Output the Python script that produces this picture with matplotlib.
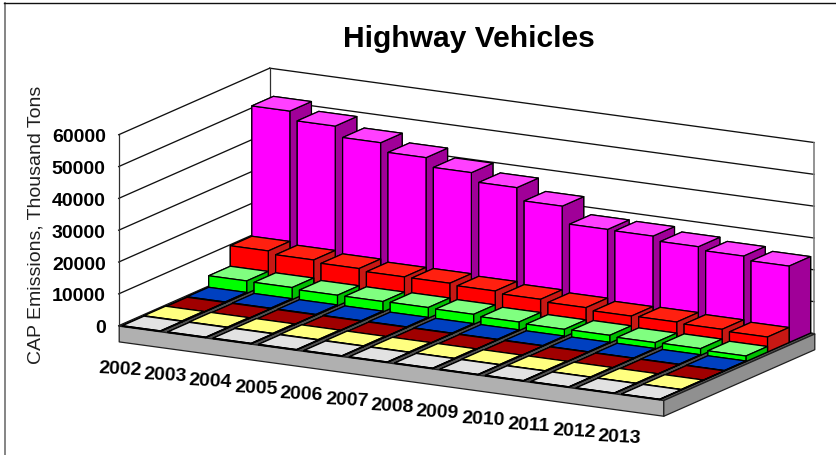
import matplotlib
matplotlib.use("Agg")
import matplotlib.pyplot as plt
from matplotlib.lines import Line2D
from mpl_toolkits.mplot3d import proj3d
from mpl_toolkits.mplot3d.art3d import Poly3DCollection

plt.rcParams['font.family'] = ['Liberation Sans', 'DejaVu Sans']

title = "Highway Vehicles"
y_label = "CAP Emissions, Thousand Tons"
years = ["2002", "2003", "2004", "2005", "2006", "2007",
         "2008", "2009", "2010", "2011", "2012", "2013"]
z_ticks = [0, 10000, 20000, 30000, 40000, 50000, 60000]

# series from the front row to the back row
grey_s = [160, 150, 150, 140, 140, 130, 130, 120, 120, 110, 110, 100]
yellow_s = [300, 290, 280, 270, 260, 250, 240, 230, 220, 210, 200, 190]
darkred_s = [120, 120, 110, 110, 100, 100, 90, 90, 80, 80, 70, 70]
blue_s = [280, 270, 260, 250, 240, 230, 220, 210, 200, 190, 180, 170]
green_s = [3900, 3770, 3300, 3270, 3330, 3140, 2670, 2320, 2390, 2040, 2100, 1730]
red_s = [10340, 9450, 8700, 8010, 7980, 7480, 6820, 6150, 5440, 5520, 5180, 4710]
magenta_s = [51300, 48530, 45240, 42500, 39740, 36970, 33100, 27740, 27580, 26200, 25190, 24000]

rows = [grey_s, yellow_s, darkred_s, blue_s, green_s, red_s, magenta_s]
# (front, top, side)
row_colors = [
    ("#C8C8C8", "#E2E2E2", "#A8A8A8"),
    ("#E6E650", "#FFFF80", "#C8C840"),
    ("#800000", "#A00000", "#700000"),
    ("#0030A0", "#0040C0", "#002890"),
    ("#00FF00", "#80FF80", "#00C000"),
    ("#FF0000", "#FF2010", "#C81814"),
    ("#FF00FF", "#FF40FF", "#A00098"),
]

W, H = 836, 456
fig = plt.figure(figsize=(W / 100, H / 100), dpi=100)
fig.patch.set_facecolor("white")
ax = fig.add_axes([0, 0, 800 / W, 800 / H], projection="3d", proj_type="ortho",
                  computed_zorder=False)
ax.view_init(elev=14.2, azim=-60.9)
ax.set_axis_off()

nx, ny = len(years), len(rows)
ztop = z_ticks[-1]
slab = -ztop * 15.7 / 191
gap = 0.082
bw = 0.837

# floor slab
floor = [
    [(0, 0, 0), (nx, 0, 0), (nx, ny, 0), (0, ny, 0)],
    [(0, 0, 0), (nx, 0, 0), (nx, 0, slab), (0, 0, slab)],
    [(nx, 0, 0), (nx, ny, 0), (nx, ny, slab), (nx, 0, slab)],
]
for poly, col in zip(floor, ["#505050", "#B0B0B0", "#909090"]):
    pc = Poly3DCollection([poly], facecolors=col, edgecolors="#202020", linewidths=0.9,
                          zorder=1)
    ax.add_collection3d(pc)

# walls
for v in z_ticks:
    ax.plot([0, 0], [0, ny], [v, v], color="#101010", lw=0.95, zorder=0)
    ax.plot([0, nx], [ny, ny], [v, v], color="#101010", lw=0.95, zorder=0)
ax.plot([0, 0], [0, 0], [0, ztop], color="#303030", lw=0.9, zorder=0)
ax.plot([0, 0], [ny, ny], [0, ztop], color="#303030", lw=0.9, zorder=0)
ax.plot([nx, nx], [ny, ny], [0, ztop], color="#808080", lw=1.2, zorder=0)

# bars, back row first, left to right
for s in range(ny - 1, -1, -1):
    front, top, side = row_colors[s]
    # face order in bar3d: bottom, top, front, back, left, right
    faces = [top, top, front, front, side, side]
    for i, v in enumerate(rows[s]):
        b = ax.bar3d(i + gap, s, 0, bw, 1, v, color=faces, shade=False,
                     edgecolor="black", linewidth=0.9)
        b.set_zorder(10 + (ny - s) * 100 + i)

ax.set_xlim(0, nx)
ax.set_ylim(0, ny)
ax.set_zlim(0, ztop)


def to_px(x, y, z):
    X, Y, _ = proj3d.proj_transform(x, y, z, ax.get_proj())
    return ax.transData.transform((X, Y))


# fit the 3D box onto the reference's pixel frame
aspect = (623.3, 310.5, 197.0)
ax.set_box_aspect(aspect)
ax.apply_aspect()
span = to_px(nx, 0, 0) - to_px(0, 0, 0)
ax.set_box_aspect(aspect, zoom=544.6 / span[0])
ax.apply_aspect()
o = to_px(0, 0, 0)
shift_x = (118.7 - o[0]) / W
shift_y = ((H - 326.7) - o[1]) / H
ax.set_position([shift_x, shift_y, 800 / W, 800 / H])
ax.apply_aspect()

# tick labels, placed at the projected positions of the axis values
tick_font = dict(fontweight="bold", fontsize=14.0, color="black")
for v in z_ticks:
    p = to_px(0, 0, v)
    fig.text((p[0] - 13) / W, (p[1] - 2) / H, str(v), ha="right", va="center", **tick_font)
for i, label in enumerate(years):
    p = to_px(i + 0.5, -1, -8900)
    fig.text(p[0] / W, (p[1] - 2) / H, label, rotation=-3, rotation_mode="anchor",
             ha="center", va="center", **tick_font)

fig.text(469 / W, 1 - 39 / H, title, ha="center", va="center",
         fontsize=21.6, fontweight="bold", color="black")
fig.text(36 / W, 1 - 225 / H, y_label, ha="center", va="center", rotation=90,
         fontsize=14, color="#202020")

# picture frame: left and top only
fig.add_artist(Line2D([4.5 / W, 4.5 / W], [0, 1 - 4 / H], color="#707070", lw=1.2,
                      transform=fig.transFigure))
fig.add_artist(Line2D([4 / W, 1], [1 - 4 / H, 1 - 4 / H], color="#101010", lw=1.0,
                      transform=fig.transFigure))

fig.savefig("out.png", dpi=100)
